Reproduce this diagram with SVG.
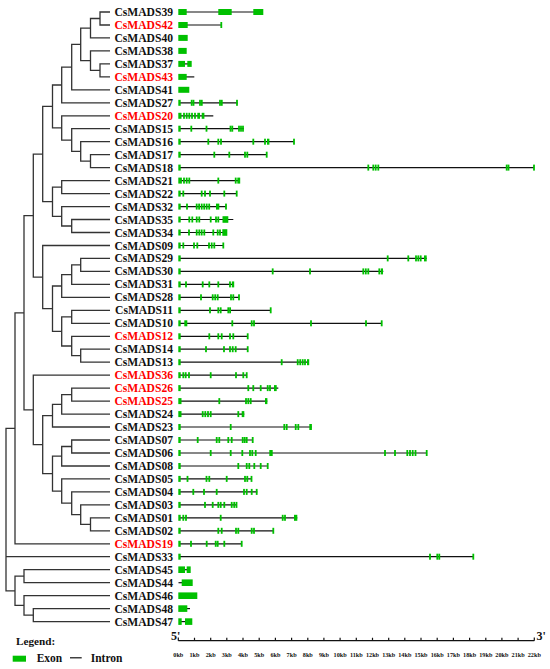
<svg xmlns="http://www.w3.org/2000/svg" width="550" height="669" viewBox="0 0 550 669">
<style>
.lb{font-family:"Liberation Serif","Times New Roman",serif;font-weight:bold;font-size:11.6px;text-anchor:end;fill:#111}
.red{fill:#ff0000}
.br{fill:none;stroke:#333;stroke-width:1.3}
.in{stroke:#111;stroke-width:1.2}
.g{fill:#00c000}
.sc{font-family:"Liberation Serif","Times New Roman",serif;font-weight:bold;font-size:6.2px;text-anchor:middle;fill:#111}
.lg{font-family:"Liberation Serif","Times New Roman",serif;font-weight:bold;fill:#111}
</style>
<defs>
<rect id="t" x="-0.9" y="-3" width="1.8" height="6"/>
<rect id="f" x="178.3" y="-3" width="2.4" height="6"/>
</defs>
<rect width="550" height="669" fill="#fff"/>
<g id="connectors" class="br">
<path d="M110 12H100V25H110"/>
<path d="M100 18.5H90.5V37.9H110"/>
<path d="M110 63.9H100V76.9H110"/>
<path d="M110 50.9H90.5V70.4H100"/>
<path d="M90.5 28.2H80.7V60.6H90.5"/>
<path d="M80.7 44.4H71.7V89.8H110"/>
<path d="M71.7 67.1H61.7V102.8H110"/>
<path d="M110 154.7H90.5V167.6H110"/>
<path d="M110 141.7H80.7V161.2H90.5"/>
<path d="M110 128.7H71.7V151.4H80.7"/>
<path d="M110 115.8H61.7V140.1H71.7"/>
<path d="M61.7 85H52.5V127.9H61.7"/>
<path d="M110 180.6H61.7V193.6H110"/>
<path d="M110 219.5H71.7V232.5H110"/>
<path d="M110 206.6H61.7V226H71.7"/>
<path d="M61.7 187.1H52.5V216.3H61.7"/>
<path d="M52.5 106.4H42.7V201.7H52.5"/>
<path d="M110 258.4H80.7V271.4H110"/>
<path d="M80.7 264.9H71.7V284.4H110"/>
<path d="M71.7 274.6H61.7V297.3H110"/>
<path d="M110 310.3H71.7V323.3H110"/>
<path d="M110 349.2H80.7V362.2H110"/>
<path d="M110 336.3H71.7V355.7H80.7"/>
<path d="M71.7 316.8H61.7V346H71.7"/>
<path d="M61.7 286H52.5V331.4H61.7"/>
<path d="M110 245.5H42.7V308.7H52.5"/>
<path d="M42.7 154.1H33.3V277.1H42.7"/>
<path d="M110 388.1H71.7V401.1H110"/>
<path d="M71.7 394.6H61.7V414.1H110"/>
<path d="M61.7 404.4H52.5V427H110"/>
<path d="M110 440H71.7V453H110"/>
<path d="M71.7 446.5H61.7V466H110"/>
<path d="M110 517.8H90.5V530.8H110"/>
<path d="M110 504.9H80.7V524.3H90.5"/>
<path d="M110 491.9H71.7V514.6H80.7"/>
<path d="M110 478.9H61.7V503.2H71.7"/>
<path d="M61.7 456.2H52.5V491.1H61.7"/>
<path d="M52.5 415.7H42.7V473.6H52.5"/>
<path d="M110 375.2H33.3V444.7H42.7"/>
<path d="M33.3 215.6H24V409.9H33.3"/>
<path d="M24 312.8H15V543.8H110"/>
<path d="M110 569.7H24V582.7H110"/>
<path d="M110 608.6H33.3V621.6H110"/>
<path d="M110 595.7H24V615.1H33.3"/>
<path d="M24 576.2H15V605.4H24"/>
<path d="M15 428.3H6V590.8H15M6 556.7H110"/>
</g>

<g id="CsMADS39" transform="translate(0,12)"><text class="lb" x="173" y="4">CsMADS39</text><line class="in" x1="186" x2="254"/><g class="g"><rect x="178.3" y="-3" width="8.4" height="6"/><rect x="218.3" y="-3" width="13.4" height="6"/><rect x="253.3" y="-3" width="10" height="6"/></g></g>
<g id="CsMADS42" transform="translate(0,25)"><text class="lb red" x="173" y="4">CsMADS42</text><line class="in" x1="187" x2="221.5"/><g class="g"><rect x="178.3" y="-3" width="9.4" height="6"/><use href="#t" x="221.3"/></g></g>
<g id="CsMADS40" transform="translate(0,37.9)"><text class="lb" x="173" y="4">CsMADS40</text><g class="g"><rect x="178.3" y="-3" width="9.4" height="6"/></g></g>
<g id="CsMADS38" transform="translate(0,50.9)"><text class="lb" x="173" y="4">CsMADS38</text><g class="g"><rect x="178.3" y="-3" width="8.4" height="6"/></g></g>
<g id="CsMADS37" transform="translate(0,63.9)"><text class="lb" x="173" y="4">CsMADS37</text><line class="in" x1="184" x2="188"/><g class="g"><rect x="178.3" y="-3" width="6.7" height="6"/><rect x="187.3" y="-3" width="4.4" height="6"/></g></g>
<g id="CsMADS43" transform="translate(0,76.9)"><text class="lb red" x="173" y="4">CsMADS43</text><line class="in" x1="186" x2="194.3"/><g class="g"><rect x="178.3" y="-3" width="8.4" height="6"/></g></g>
<g id="CsMADS41" transform="translate(0,89.8)"><text class="lb" x="173" y="4">CsMADS41</text><g class="g"><rect x="178.3" y="-3" width="11" height="6"/></g></g>
<g id="CsMADS27" transform="translate(0,102.8)"><text class="lb" x="173" y="4">CsMADS27</text><line class="in" x1="179" x2="237.5"/><g class="g"><use href="#f"/><use href="#t" x="191.7"/><use href="#t" x="193.5"/><use href="#t" x="200"/><use href="#t" x="201.8"/><use href="#t" x="220"/><use href="#t" x="221.8"/><use href="#t" x="237"/></g></g>
<g id="CsMADS20" transform="translate(0,115.8)"><text class="lb red" x="173" y="4">CsMADS20</text><line class="in" x1="179" x2="213.3"/><g class="g"><rect x="178.3" y="-3" width="3.2" height="6"/><use href="#t" x="184"/><use href="#t" x="186.7"/><use href="#t" x="189.3"/><use href="#t" x="192"/><use href="#t" x="195"/><rect x="197.3" y="-3" width="2.7" height="6"/><rect x="201.7" y="-3" width="2.7" height="6"/></g></g>
<g id="CsMADS15" transform="translate(0,128.7)"><text class="lb" x="173" y="4">CsMADS15</text><line class="in" x1="179" x2="244"/><g class="g"><use href="#f"/><use href="#t" x="191.3"/><use href="#t" x="206.5"/><use href="#t" x="230.5"/><use href="#t" x="232.3"/><use href="#t" x="239"/><use href="#t" x="241"/><use href="#t" x="243"/></g></g>
<g id="CsMADS16" transform="translate(0,141.7)"><text class="lb" x="173" y="4">CsMADS16</text><line class="in" x1="179" x2="294"/><g class="g"><use href="#f"/><use href="#t" x="208.3"/><use href="#t" x="218.3"/><use href="#t" x="221"/><use href="#t" x="253.3"/><use href="#t" x="265"/><rect x="267" y="-3" width="2.4" height="6"/><use href="#t" x="294"/></g></g>
<g id="CsMADS17" transform="translate(0,154.7)"><text class="lb" x="173" y="4">CsMADS17</text><line class="in" x1="179" x2="266.7"/><g class="g"><use href="#f"/><use href="#t" x="214.3"/><use href="#t" x="229.3"/><use href="#t" x="245"/><use href="#t" x="247.3"/><use href="#t" x="266.7"/></g></g>
<g id="CsMADS18" transform="translate(0,167.6)"><text class="lb" x="173" y="4">CsMADS18</text><line class="in" x1="179" x2="534"/><g class="g"><use href="#f"/><use href="#t" x="368.3"/><use href="#t" x="373.3"/><use href="#t" x="375.7"/><use href="#t" x="378.3"/><use href="#t" x="506.7"/><use href="#t" x="508.5"/><use href="#t" x="534"/></g></g>
<g id="CsMADS21" transform="translate(0,180.6)"><text class="lb" x="173" y="4">CsMADS21</text><line class="in" x1="179" x2="240"/><g class="g"><rect x="178.3" y="-3" width="3.6" height="6"/><use href="#t" x="184"/><use href="#t" x="186.7"/><use href="#t" x="189.3"/><use href="#t" x="218.3"/><use href="#t" x="235.7"/><rect x="237.3" y="-3" width="2.9" height="6"/></g></g>
<g id="CsMADS22" transform="translate(0,193.6)"><text class="lb" x="173" y="4">CsMADS22</text><line class="in" x1="179" x2="236.7"/><g class="g"><use href="#f"/><use href="#t" x="183.3"/><use href="#t" x="201.7"/><use href="#t" x="205"/><use href="#t" x="210"/><use href="#t" x="224.3"/><use href="#t" x="236.7"/></g></g>
<g id="CsMADS32" transform="translate(0,206.6)"><text class="lb" x="173" y="4">CsMADS32</text><line class="in" x1="179" x2="226"/><g class="g"><use href="#f"/><use href="#t" x="187"/><use href="#t" x="196.7"/><use href="#t" x="199.1"/><use href="#t" x="201.7"/><use href="#t" x="204.2"/><use href="#t" x="206.7"/><use href="#t" x="209.2"/><rect x="216" y="-3" width="3.3" height="6"/><use href="#t" x="226"/></g></g>
<g id="CsMADS35" transform="translate(0,219.5)"><text class="lb" x="173" y="4">CsMADS35</text><line class="in" x1="179" x2="233.3"/><g class="g"><use href="#f"/><use href="#t" x="189.3"/><use href="#t" x="192.3"/><use href="#t" x="196.7"/><use href="#t" x="199.3"/><use href="#t" x="210.7"/><use href="#t" x="216"/><use href="#t" x="218.3"/><rect x="222.5" y="-3.3" width="5.8" height="6.6"/></g></g>
<g id="CsMADS34" transform="translate(0,232.5)"><text class="lb" x="173" y="4">CsMADS34</text><line class="in" x1="179" x2="226"/><g class="g"><use href="#f"/><use href="#t" x="189"/><use href="#t" x="196.7"/><use href="#t" x="199.3"/><use href="#t" x="201.7"/><use href="#t" x="204.3"/><use href="#t" x="213.3"/><use href="#t" x="217.7"/><use href="#t" x="220"/><rect x="222.3" y="-3.3" width="5" height="6.6"/></g></g>
<g id="CsMADS09" transform="translate(0,245.5)"><text class="lb" x="173" y="4">CsMADS09</text><line class="in" x1="179" x2="223.3"/><g class="g"><use href="#f"/><use href="#t" x="183.3"/><use href="#t" x="194"/><use href="#t" x="197.3"/><use href="#t" x="209"/><use href="#t" x="211.7"/><use href="#t" x="214.3"/><use href="#t" x="223.3"/></g></g>
<g id="CsMADS29" transform="translate(0,258.4)"><text class="lb" x="173" y="4">CsMADS29</text><line class="in" x1="179" x2="426.7"/><g class="g"><use href="#f"/><use href="#t" x="387.7"/><use href="#t" x="408.3"/><use href="#t" x="416"/><use href="#t" x="418.3"/><use href="#t" x="420.7"/><rect x="424" y="-3" width="2.7" height="6"/></g></g>
<g id="CsMADS30" transform="translate(0,271.4)"><text class="lb" x="173" y="4">CsMADS30</text><line class="in" x1="179" x2="383.3"/><g class="g"><use href="#f"/><use href="#t" x="272.7"/><use href="#t" x="310"/><use href="#t" x="363.3"/><use href="#t" x="365.8"/><use href="#t" x="368.3"/><use href="#t" x="379.3"/><rect x="380.8" y="-3" width="2.2" height="6"/></g></g>
<g id="CsMADS31" transform="translate(0,284.4)"><text class="lb" x="173" y="4">CsMADS31</text><line class="in" x1="179" x2="234"/><g class="g"><use href="#f"/><use href="#t" x="186"/><use href="#t" x="202.7"/><use href="#t" x="209.3"/><use href="#t" x="218.3"/><use href="#t" x="230"/><rect x="231.8" y="-3" width="2.4" height="6"/></g></g>
<g id="CsMADS28" transform="translate(0,297.3)"><text class="lb" x="173" y="4">CsMADS28</text><line class="in" x1="179" x2="239"/><g class="g"><use href="#f"/><use href="#t" x="201"/><use href="#t" x="212.7"/><use href="#t" x="215.2"/><use href="#t" x="217.7"/><use href="#t" x="231"/><use href="#t" x="233.3"/><use href="#t" x="239"/></g></g>
<g id="CsMADS11" transform="translate(0,310.3)"><text class="lb" x="173" y="4">CsMADS11</text><line class="in" x1="179" x2="270.7"/><g class="g"><use href="#f"/><use href="#t" x="210"/><use href="#t" x="218.3"/><use href="#t" x="220.7"/><use href="#t" x="228.3"/><use href="#t" x="230.1"/><use href="#t" x="270.7"/></g></g>
<g id="CsMADS10" transform="translate(0,323.3)"><text class="lb" x="173" y="4">CsMADS10</text><line class="in" x1="179" x2="381.7"/><g class="g"><use href="#f"/><rect x="184.3" y="-3" width="3" height="6"/><use href="#t" x="232.3"/><use href="#t" x="251.7"/><use href="#t" x="254"/><use href="#t" x="311"/><use href="#t" x="366"/><use href="#t" x="381.7"/></g></g>
<g id="CsMADS12" transform="translate(0,336.3)"><text class="lb red" x="173" y="4">CsMADS12</text><line class="in" x1="179" x2="247.7"/><g class="g"><use href="#f"/><use href="#t" x="209.3"/><use href="#t" x="218.3"/><use href="#t" x="221.7"/><use href="#t" x="230"/><use href="#t" x="233.3"/><use href="#t" x="247.7"/></g></g>
<g id="CsMADS14" transform="translate(0,349.2)"><text class="lb" x="173" y="4">CsMADS14</text><line class="in" x1="179" x2="247.7"/><g class="g"><use href="#f"/><use href="#t" x="206"/><use href="#t" x="224"/><use href="#t" x="230"/><use href="#t" x="232.7"/><use href="#t" x="235.7"/><use href="#t" x="247.7"/></g></g>
<g id="CsMADS13" transform="translate(0,362.2)"><text class="lb" x="173" y="4">CsMADS13</text><line class="in" x1="179" x2="308.5"/><g class="g"><use href="#f"/><use href="#t" x="281.7"/><use href="#t" x="297.7"/><use href="#t" x="300.2"/><use href="#t" x="302.7"/><use href="#t" x="305"/><rect x="307" y="-3" width="2.2" height="6"/></g></g>
<g id="CsMADS36" transform="translate(0,375.2)"><text class="lb red" x="173" y="4">CsMADS36</text><line class="in" x1="179" x2="246.7"/><g class="g"><use href="#f"/><use href="#t" x="183.3"/><use href="#t" x="185.7"/><use href="#t" x="189"/><use href="#t" x="210.7"/><use href="#t" x="236"/><use href="#t" x="243.3"/><use href="#t" x="246.7"/></g></g>
<g id="CsMADS26" transform="translate(0,388.1)"><text class="lb red" x="173" y="4">CsMADS26</text><line class="in" x1="179" x2="278.3"/><g class="g"><use href="#f"/><use href="#t" x="248.3"/><use href="#t" x="253.3"/><use href="#t" x="260.7"/><use href="#t" x="267.7"/><use href="#t" x="270"/><rect x="274" y="-3" width="2.7" height="6"/></g></g>
<g id="CsMADS25" transform="translate(0,401.1)"><text class="lb red" x="173" y="4">CsMADS25</text><line class="in" x1="179" x2="267.3"/><g class="g"><rect x="178.3" y="-3" width="3.2" height="6"/><use href="#t" x="219.3"/><use href="#t" x="246"/><use href="#t" x="248.3"/><use href="#t" x="250.7"/><rect x="265" y="-3" width="2.4" height="6"/></g></g>
<g id="CsMADS24" transform="translate(0,414.1)"><text class="lb" x="173" y="4">CsMADS24</text><line class="in" x1="179" x2="244.3"/><g class="g"><rect x="178.3" y="-3" width="3.2" height="6"/><use href="#t" x="202.7"/><use href="#t" x="205.3"/><use href="#t" x="208"/><use href="#t" x="210.7"/><use href="#t" x="238.3"/><rect x="241.7" y="-3" width="2.6" height="6"/></g></g>
<g id="CsMADS23" transform="translate(0,427)"><text class="lb" x="173" y="4">CsMADS23</text><line class="in" x1="179" x2="311.7"/><g class="g"><use href="#f"/><use href="#t" x="230.7"/><use href="#t" x="284.3"/><use href="#t" x="286.7"/><use href="#t" x="295.7"/><use href="#t" x="298.3"/><rect x="309.3" y="-3" width="2.6" height="6"/></g></g>
<g id="CsMADS07" transform="translate(0,440)"><text class="lb" x="173" y="4">CsMADS07</text><line class="in" x1="179" x2="252.7"/><g class="g"><use href="#f"/><use href="#t" x="197.7"/><use href="#t" x="216.7"/><use href="#t" x="219.3"/><use href="#t" x="228.3"/><use href="#t" x="231.7"/><use href="#t" x="242.7"/><use href="#t" x="244.7"/><use href="#t" x="246.7"/><use href="#t" x="252.7"/></g></g>
<g id="CsMADS06" transform="translate(0,453)"><text class="lb" x="173" y="4">CsMADS06</text><line class="in" x1="179" x2="427"/><g class="g"><use href="#f"/><use href="#t" x="210.7"/><use href="#t" x="230.7"/><use href="#t" x="242.3"/><use href="#t" x="250"/><use href="#t" x="252.3"/><use href="#t" x="255.7"/><rect x="269.3" y="-3" width="3.4" height="6"/><use href="#t" x="385"/><use href="#t" x="395"/><use href="#t" x="407.3"/><use href="#t" x="410"/><use href="#t" x="412.7"/><use href="#t" x="415.5"/><use href="#t" x="426.7"/></g></g>
<g id="CsMADS08" transform="translate(0,466)"><text class="lb" x="173" y="4">CsMADS08</text><line class="in" x1="179" x2="267.7"/><g class="g"><use href="#f"/><use href="#t" x="238.3"/><use href="#t" x="246.7"/><use href="#t" x="249.3"/><use href="#t" x="254.3"/><use href="#t" x="260.7"/><use href="#t" x="267.7"/></g></g>
<g id="CsMADS05" transform="translate(0,478.9)"><text class="lb" x="173" y="4">CsMADS05</text><line class="in" x1="179" x2="251.7"/><g class="g"><use href="#f"/><use href="#t" x="187.5"/><use href="#t" x="206.5"/><use href="#t" x="209.3"/><use href="#t" x="226.7"/><use href="#t" x="245"/><use href="#t" x="247.3"/><use href="#t" x="251.5"/></g></g>
<g id="CsMADS04" transform="translate(0,491.9)"><text class="lb" x="173" y="4">CsMADS04</text><line class="in" x1="179" x2="257.3"/><g class="g"><use href="#f"/><use href="#t" x="193.3"/><use href="#t" x="204"/><use href="#t" x="216.7"/><use href="#t" x="244"/><use href="#t" x="246.7"/><use href="#t" x="251.7"/><use href="#t" x="256.7"/></g></g>
<g id="CsMADS03" transform="translate(0,504.9)"><text class="lb" x="173" y="4">CsMADS03</text><line class="in" x1="179" x2="236.7"/><g class="g"><use href="#f"/><use href="#t" x="205"/><use href="#t" x="212.7"/><use href="#t" x="218.3"/><use href="#t" x="220.7"/><use href="#t" x="224.3"/><use href="#t" x="231.7"/><use href="#t" x="234.2"/><use href="#t" x="236.5"/></g></g>
<g id="CsMADS01" transform="translate(0,517.8)"><text class="lb" x="173" y="4">CsMADS01</text><line class="in" x1="179" x2="297.3"/><g class="g"><use href="#f"/><use href="#t" x="183.3"/><use href="#t" x="186"/><use href="#t" x="220.7"/><use href="#t" x="282.7"/><use href="#t" x="285"/><rect x="294" y="-3" width="3.3" height="6"/></g></g>
<g id="CsMADS02" transform="translate(0,530.8)"><text class="lb" x="173" y="4">CsMADS02</text><line class="in" x1="179" x2="273.3"/><g class="g"><use href="#f"/><use href="#t" x="218.3"/><use href="#t" x="221.7"/><use href="#t" x="236"/><use href="#t" x="238.3"/><use href="#t" x="251.7"/><use href="#t" x="254"/><use href="#t" x="273.3"/></g></g>
<g id="CsMADS19" transform="translate(0,543.8)"><text class="lb red" x="173" y="4">CsMADS19</text><line class="in" x1="179" x2="241.7"/><g class="g"><use href="#f"/><use href="#t" x="191"/><use href="#t" x="206.7"/><use href="#t" x="215.7"/><use href="#t" x="217.7"/><use href="#t" x="224.3"/><use href="#t" x="241.7"/></g></g>
<g id="CsMADS33" transform="translate(0,556.7)"><text class="lb" x="173" y="4">CsMADS33</text><line class="in" x1="179" x2="473.3"/><g class="g"><use href="#f"/><use href="#t" x="430"/><use href="#t" x="437.3"/><use href="#t" x="439.3"/><use href="#t" x="473.3"/></g></g>
<g id="CsMADS45" transform="translate(0,569.7)"><text class="lb" x="173" y="4">CsMADS45</text><line class="in" x1="184" x2="188"/><g class="g"><rect x="178.3" y="-3.3" width="6.7" height="6.6"/><rect x="186.7" y="-3.3" width="4" height="6.6"/></g></g>
<g id="CsMADS44" transform="translate(0,582.7)"><text class="lb" x="173" y="4">CsMADS44</text><line class="in" x1="178.5" x2="182"/><g class="g"><rect x="181.7" y="-3.3" width="11" height="6.6"/></g></g>
<g id="CsMADS46" transform="translate(0,595.7)"><text class="lb" x="173" y="4">CsMADS46</text><g class="g"><rect x="178.3" y="-3.3" width="19" height="6.6"/></g></g>
<g id="CsMADS48" transform="translate(0,608.6)"><text class="lb" x="173" y="4">CsMADS48</text><line class="in" x1="186" x2="190"/><g class="g"><rect x="178.3" y="-3.3" width="9" height="6.6"/></g></g>
<g id="CsMADS47" transform="translate(0,621.6)"><text class="lb" x="173" y="4">CsMADS47</text><line class="in" x1="181" x2="186"/><g class="g"><rect x="178.3" y="-3.3" width="3.4" height="6.6"/><rect x="185" y="-3.3" width="7.3" height="6.6"/></g></g>

<g id="scale">
<text class="lg" x="171" y="640" font-size="12">5'</text>
<text class="lg" x="536.5" y="640" font-size="12">3'</text>
<path class="in" d="M178.3 640.7H534.3M178.3 640.7V637.5M194.5 640.7V637.7M210.7 640.7V637.7M226.8 640.7V637.7M243 640.7V637.7M259.2 640.7V637.7M275.4 640.7V637.7M291.6 640.7V637.7M307.8 640.7V637.7M323.9 640.7V637.7M340.1 640.7V637.7M356.3 640.7V637.7M372.5 640.7V637.7M388.7 640.7V637.7M404.8 640.7V637.7M421 640.7V637.7M437.2 640.7V637.7M453.4 640.7V637.7M469.6 640.7V637.7M485.8 640.7V637.7M501.9 640.7V637.7M518.1 640.7V637.7M534.3 640.7V637.5"/>
<text class="sc" x="178.3" y="656.5">0kb</text>
<text class="sc" x="194.5" y="656.5">1kb</text>
<text class="sc" x="210.7" y="656.5">2kb</text>
<text class="sc" x="226.8" y="656.5">3kb</text>
<text class="sc" x="243" y="656.5">4kb</text>
<text class="sc" x="259.2" y="656.5">5kb</text>
<text class="sc" x="275.4" y="656.5">6kb</text>
<text class="sc" x="291.6" y="656.5">7kb</text>
<text class="sc" x="307.8" y="656.5">8kb</text>
<text class="sc" x="323.9" y="656.5">9kb</text>
<text class="sc" x="340.1" y="656.5">10kb</text>
<text class="sc" x="356.3" y="656.5">11kb</text>
<text class="sc" x="372.5" y="656.5">12kb</text>
<text class="sc" x="388.7" y="656.5">13kb</text>
<text class="sc" x="404.8" y="656.5">14kb</text>
<text class="sc" x="421" y="656.5">15kb</text>
<text class="sc" x="437.2" y="656.5">16kb</text>
<text class="sc" x="453.4" y="656.5">17kb</text>
<text class="sc" x="469.6" y="656.5">18kb</text>
<text class="sc" x="485.8" y="656.5">19kb</text>
<text class="sc" x="501.9" y="656.5">20kb</text>
<text class="sc" x="518.1" y="656.5">21kb</text>
<text class="sc" x="534.3" y="656.5">22kb</text>
</g>

<g id="legend">
<text class="lg" x="16" y="645" font-size="11.2">Legend:</text>
<rect class="g" x="12.7" y="655.7" width="13.3" height="6"/>
<text class="lg" x="36.7" y="662" font-size="11.5">Exon</text>
<line class="in" x1="70" y1="657.8" x2="81.7" y2="657.8" stroke-width="1.6"/>
<text class="lg" x="90.7" y="662" font-size="11.5">Intron</text>
</g>
</svg>
